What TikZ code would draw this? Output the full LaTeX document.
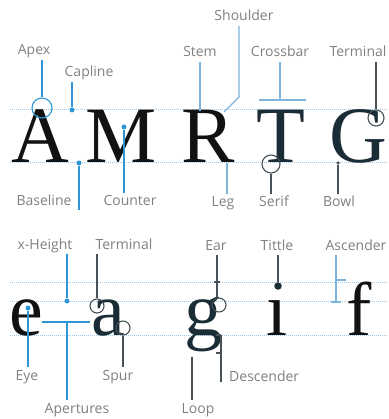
\documentclass[tikz,border=0pt]{standalone}
\usepackage{fontspec}
\setmainfont{Liberation Serif}
\setsansfont{Open Sans}
\usetikzlibrary{calc}
\definecolor{guideblue}{RGB}{160,200,232}
\definecolor{markblue}{RGB}{45,150,215}
\definecolor{paleblue}{RGB}{125,180,220}
\definecolor{markgray}{RGB}{70,82,88}
\definecolor{labelgray}{RGB}{128,128,128}
\definecolor{inkslate}{RGB}{26,44,54}
\definecolor{inkblack}{RGB}{18,18,18}
\begin{document}
\begin{tikzpicture}[
  x=1pt, y=-1pt,
  tag/.style={font=\sffamily\fontsize{14}{14}\selectfont, text=labelgray, anchor=base, inner sep=2pt, text height=10.5pt, text depth=3pt},
  glyph/.style={font=\fontsize{80}{80}\selectfont, anchor=base, inner sep=0pt, text=inkslate},
  small/.style={font=\fontsize{76}{76}\selectfont},
  guide/.style={guideblue, densely dotted, line width=1pt},
  blueline/.style={markblue, line width=1.1pt},
  paleline/.style={paleblue, line width=1.1pt},
  grayline/.style={markgray, line width=1.1pt},
  ring/.style={circle, draw, inner sep=0pt, line width=1.1pt},
  pin/.style={circle, fill, inner sep=0pt, minimum size=5pt},
]
\useasboundingbox (0,0) rectangle (388,419);

\foreach \y in {110,163,282,301,335}{
  \draw[guide] (10,\y) -- (388,\y);
}

\node[glyph, text=inkblack] (gA) at (40,163) {A};
\node[glyph, text=inkblack] (gM) at (121,163) {M};
\node[glyph, text=inkblack] (gR) at (208,163) {R};
\node[glyph] (gT) at (281,163) {T};
\node[glyph] (gG) at (358,163) {G};

\node[glyph, small, text=inkblack] (ge) at (26,335) {e};
\node[glyph, small] (ga) at (108,335) {a};
\node[glyph, small] (gg) at (203,335) {g};
\node[glyph, small, text=inkblack] (gi) at (277,335) {\i};
\node[glyph, small, text=inkblack] (gf) at (359,335) {f};

\node[tag] (apex) at (34,55) {Apex};
\node[tag] (capline) at (89,77) {Capline};
\node[tag] (stem) at (200,57) {Stem};
\node[tag] (shoulder) at (244,21) {Shoulder};
\node[tag] (crossbar) at (280,57) {Crossbar};
\node[tag] (terminalG) at (358,57) {Terminal};
\node[tag] (baseline) at (44,206) {Baseline};
\node[tag] (counter) at (130,206) {Counter};
\node[tag] (leg) at (223,207) {Leg};
\node[tag] (serif) at (274,207) {Serif};
\node[tag] (bowl) at (339,207) {Bowl};

\node[tag] (xheight) at (45,249) {x-Height};
\node[tag] (terminala) at (124,249) {Terminal};
\node[tag] (ear) at (216,250) {Ear};
\node[tag] (tittle) at (277,250) {Tittle};
\node[tag] (ascender) at (356,250) {Ascender};
\node[tag] (eye) at (27,380) {Eye};
\node[tag] (spur) at (118,380) {Spur};
\node[tag, anchor=base west] (descender) at (227,381) {Descender};
\node[tag] (apertures) at (77,413) {Apertures};
\node[tag] (loop) at (198,413) {Loop};

\node[ring, markblue, minimum size=20pt] (apexring) at (42,108) {};
\node[pin, markblue] (capdot) at (72,110) {};
\node[pin, markblue] (basedot) at (79,163) {};
\coordinate (baseend) at (79,210);
\node[pin, markblue] (counterdot) at (124,127) {};
\coordinate (stemend) at (200,111);
\coordinate (shoulderknee) at (239,97);
\coordinate (shoulderend) at (224,112);
\coordinate (barmid) at (280,100);
\coordinate (barleft) at (259,100);
\coordinate (barright) at (306,100);
\node[ring, markgray, minimum size=16pt] (termring) at (376,118) {};
\coordinate (legfoot) at (227,163);
\node[ring, markgray, minimum size=18pt] (serifring) at (271,164) {};
\node[pin, markgray, minimum size=3.5pt] (bowldot) at (338,163) {};

\node[pin, markblue] (xdot) at (67,301) {};
\node[ring, markgray, minimum size=14pt] (termaring) at (97,306) {};
\node[pin, markblue] (eyedot) at (28,308) {};
\coordinate (apleft) at (42,322);
\coordinate (apright) at (90,322);
\coordinate (apmid) at (67,322);
\node[ring, markgray, minimum size=14pt] (spurring) at (123,328) {};
\node[ring, markgray, minimum size=14pt] (earring) at (219,305) {};
\coordinate (eartick) at (217,282);
\node[pin, inkslate, minimum size=7.5pt] (tittledot) at (278,286) {};
\coordinate (ascfoot) at (336,302);
\coordinate (ascmid) at (336,280);
\coordinate (desctop) at (221,335);
\coordinate (descmid) at (221,353);
\coordinate (descend) at (221,382);
\coordinate (looptop) at (192,357);

\draw[blueline] (apex.south -| apexring) -- (apexring.north);
\draw[blueline] (capline.south -| capdot) -- (capdot);
\draw[blueline] (basedot) -- (baseend);
\draw[blueline] (counterdot) -- (counterdot |- counter.north);
\draw[paleline] (stem.south -| stemend) -- (stemend);
\draw[paleline] (shoulder.south -| shoulderknee) -- (shoulderknee) -- (shoulderend);
\draw[paleline] (crossbar.south) -- (barmid);
\draw[paleline] (barleft) -- (barright);
\draw[grayline] (terminalG.south -| termring) -- (termring.north);
\draw[paleline] (legfoot) -- (legfoot |- leg.north);
\draw[grayline] (serifring.south) -- (serifring |- serif.north);
\draw[grayline] (bowldot) -- (bowldot |- bowl.north);

\draw[blueline] (xheight.south -| xdot) -- (xdot);
\draw[grayline] (terminala.south -| termaring) -- (termaring.north);
\draw[blueline] (eyedot) -- (eyedot |- eye.north);
\draw[blueline] (apleft) -- (apright);
\draw[blueline] (apmid) -- (apmid |- apertures.north);
\draw[grayline] (spurring.south) -- (spurring |- spur.north);
\draw[grayline] (ear.south -| eartick) -- (eartick |- earring.north);
\draw[grayline] ($(eartick)+(-3,0)$) -- ($(eartick)+(3,0)$);
\draw[grayline] (tittle.south -| tittledot) -- (tittledot);
\draw[paleline] (ascender.south -| ascfoot) -- (ascfoot);
\draw[paleline] (ascmid) -- ++(10,0);
\draw[paleline] ($(ascfoot)+(-5,0)$) -- ++(10,0);
\draw[grayline] (desctop) -- (descend);
\draw[grayline] (desctop) -- ++(-5,0);
\draw[grayline] (descmid) -- ++(-5,0);
\draw[grayline] (looptop) -- (looptop |- loop.north);
\end{tikzpicture}
\end{document}
